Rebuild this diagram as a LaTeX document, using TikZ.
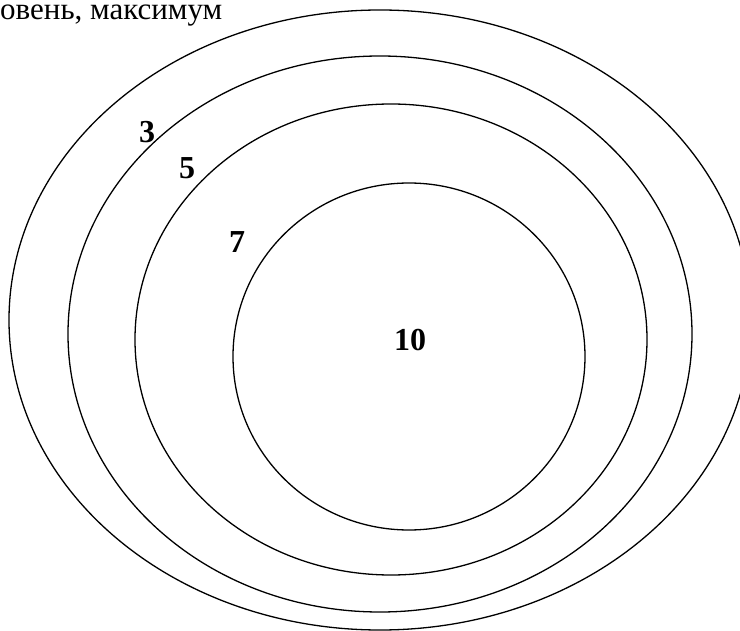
\documentclass[tikz,border=0pt]{standalone}
\usepackage{fontspec}
\setmainfont{Liberation Serif}
\begin{document}
\begin{tikzpicture}[x=1pt,y=-1pt,
  ring/.style={draw=black,line width=1.3pt},
  lbl/.style={font=\fontsize{32}{32}\selectfont\bfseries, inner sep=0pt},
  ttl/.style={font=\fontsize{31}{31}\selectfont, inner sep=0pt}]
\useasboundingbox (0,0) rectangle (740,631);
\fill[white] (0,0) rectangle (740,631);
\begin{scope}
\clip (0,0) rectangle (740,631);
\draw[ring] (380,320) ellipse [x radius=371, y radius=310];
\draw[ring] (380,334) ellipse [x radius=312, y radius=278];
\draw[ring] (391,339.5) ellipse [x radius=256, y radius=235.5];
\draw[ring] (409,356.5) ellipse [x radius=176, y radius=173.5];
\end{scope}
\node[ttl, anchor=base west] (title) at (0,20) {овень, максимум};
\node[lbl] (l3) at (147,132) {3};
\node[lbl] (l5) at (187,168) {5};
\node[lbl] (l7) at (237,242) {7};
\node[lbl] (l10) at (410,340) {10};
\end{tikzpicture}
\end{document}
